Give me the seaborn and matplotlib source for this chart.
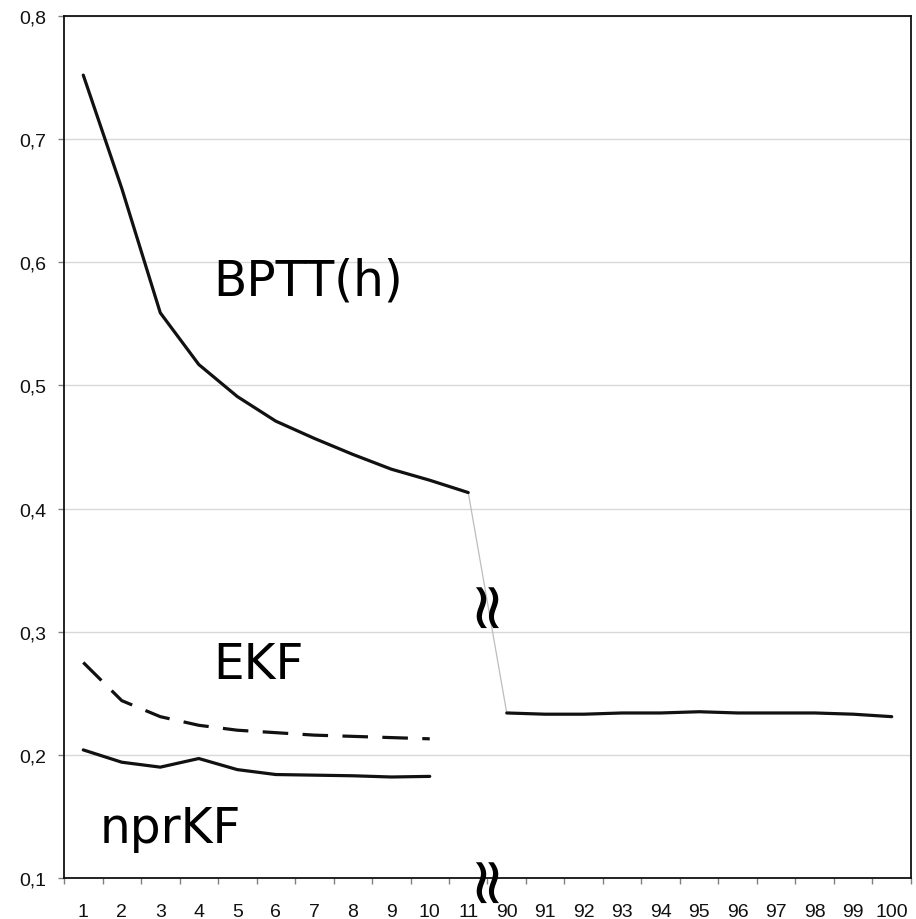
import matplotlib.pyplot as plt
import seaborn as sns
import pandas as pd
from matplotlib.ticker import FixedLocator, FuncFormatter

# categories along the (broken) x axis
x_labels = ["1", "2", "3", "4", "5", "6", "7", "8", "9", "10", "11",
            "90", "91", "92", "93", "94", "95", "96", "97", "98", "99", "100"]

# BPTT(h): steps 1..11 and 90..100
bptt_early = [0.752, 0.660, 0.559, 0.517, 0.491, 0.471, 0.457, 0.444,
              0.432, 0.423, 0.413]
bptt_late = [0.234, 0.233, 0.233, 0.234, 0.234, 0.235, 0.234, 0.234,
             0.234, 0.233, 0.231]
# EKF and nprKF: steps 1..10
ekf = [0.275, 0.244, 0.231, 0.224, 0.220, 0.218, 0.216, 0.215, 0.214, 0.213]
nprkf = [0.204, 0.194, 0.190, 0.197, 0.188, 0.184, 0.1835, 0.183, 0.182,
         0.1825]

sns.set_style("white")
plt.rcParams["font.family"] = ["DejaVu Sans"]
plt.rcParams["text.color"] = "black"
plt.rcParams["xtick.labelcolor"] = "#111111"
plt.rcParams["ytick.labelcolor"] = "#111111"

pos = list(range(len(x_labels)))
df_early = pd.DataFrame({"x": pos[:11], "y": bptt_early})
df_late = pd.DataFrame({"x": pos[11:], "y": bptt_late})
df_gap = pd.DataFrame({"x": [pos[10], pos[11]],
                       "y": [bptt_early[-1], bptt_late[0]]})
df_ekf = pd.DataFrame({"x": pos[:len(ekf)], "y": ekf})
df_npr = pd.DataFrame({"x": pos[:len(nprkf)], "y": nprkf})

fig = plt.figure(figsize=(9.16, 9.2), dpi=100)
ax = fig.add_axes([0.0699, 0.0446, 0.9246, 0.9369])

sns.lineplot(data=df_gap, x="x", y="y", ax=ax, color="#bdbdbd", lw=0.9)
sns.lineplot(data=df_early, x="x", y="y", ax=ax, color="#111111", lw=2.3)
sns.lineplot(data=df_late, x="x", y="y", ax=ax, color="#111111", lw=2.3)
sns.lineplot(data=df_npr, x="x", y="y", ax=ax, color="#111111", lw=2.3)
sns.lineplot(data=df_ekf, x="x", y="y", ax=ax, color="#111111", lw=2.3,
             linestyle=(0, (8, 4.5)))

ax.set_xlim(-0.5, len(x_labels) - 0.5)
ax.set_ylim(0.1, 0.8)
ax.set_xlabel("")
ax.set_ylabel("")

# y grid and comma decimals
yt = [0.1, 0.2, 0.3, 0.4, 0.5, 0.6, 0.7, 0.8]
ax.set_yticks(yt)
ax.yaxis.set_major_formatter(FuncFormatter(lambda v, p: ("%.1f" % v).replace(".", ",")))
ax.grid(axis="y", color="#d9d9d9", lw=1.0)
ax.grid(axis="x", visible=False)

# x ticks between categories, labels centred on categories
ax.xaxis.set_major_locator(FixedLocator([p - 0.5 for p in pos] + [pos[-1] + 0.5]))
ax.xaxis.set_major_formatter(FuncFormatter(lambda v, p: ""))
ax.xaxis.set_minor_locator(FixedLocator(pos))
ax.set_xticklabels(x_labels, minor=True)
ax.tick_params(axis="x", which="major", direction="out", length=4.5,
               width=1, color="#808080", bottom=True)
ax.tick_params(axis="x", which="minor", length=0, pad=18, labelsize=14)
ax.tick_params(axis="y", direction="out", length=4.5, width=1,
               color="#808080", left=True, labelsize=14, pad=8)

for lab in ax.get_xticklabels(minor=True) + ax.get_yticklabels():
    lab.set_fontfamily("Liberation Sans")

for s in ax.spines.values():
    s.set_visible(True)
    s.set_color("#111111")
    s.set_linewidth(1.3)

# series labels
ax.text(3.37, 0.5735, "BPTT(h)", fontsize=35, va="baseline", ha="left")
ax.text(3.37, 0.262, "EKF", fontsize=35, va="baseline", ha="left")
ax.text(0.43, 0.1296, "nprKF", fontsize=35, va="baseline", ha="left")

# axis break marks
ax.text(10.4, 0.326, "\u2248", fontsize=47, rotation=90,
        ha="center", va="center")
ax.text(10.4, 0.1025, "\u2248", fontsize=47, rotation=90,
        ha="center", va="center", clip_on=False)

fig.savefig("out.png", dpi=100)
